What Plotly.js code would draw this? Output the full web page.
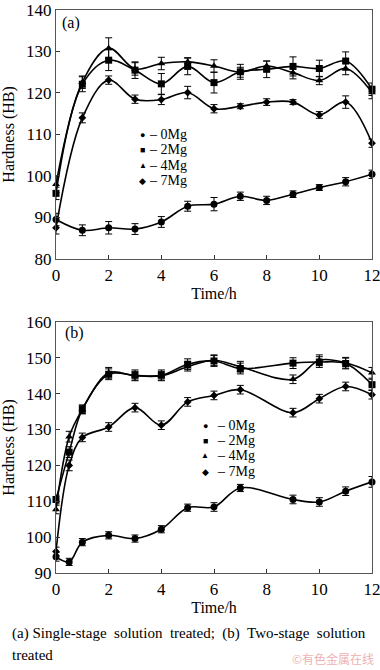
<!DOCTYPE html>
<html><head><meta charset="utf-8">
<script src="https://cdn.plot.ly/plotly-3.0.1.min.js"></script>
<style>html,body{margin:0;padding:0;background:#fff}#c{width:380px;height:670px}</style>
</head><body><div id="c"></div>
<script>
// ---- data: (a) single-stage solution treated ----
const timeA = [0,1,2,3,4,5,6,7,8,9,10,11,12];
const a0Mg = [89.5,86.9,87.5,87.2,88.9,92.7,93.2,95.1,94.1,95.6,97.2,98.6,100.4];
const a0Err = [1.5,1.3,1.5,1.3,1.3,1.2,1.6,1.0,1.0,0.8,0.7,1.0,1.0];
const a2Mg = [95.8,122.1,127.9,125.5,122.2,126.4,122.5,125.1,125.7,126.4,125.9,127.7,120.9];
const a2Err = [1.5,1.8,2.5,2.0,2.5,2.0,2.5,1.8,2.0,2.3,2.0,2.2,1.5];
const a4Mg = [98.0,122.6,130.8,125.8,127.1,127.5,126.5,125.0,126.5,124.9,123.0,125.9,120.1];
const a4Err = [2.0,1.5,2.5,1.5,1.5,1.0,1.5,1.2,1.2,1.5,1.0,1.5,1.5];
const a7Mg = [87.5,114.0,123.1,118.5,118.4,120.1,116.2,116.8,117.8,117.8,114.7,117.8,107.9];
const a7Err = [1.5,1.2,1.0,1.0,1.2,1.5,1.0,0.6,0.8,0.6,0.8,1.5,1.0];
// ---- data: (b) two-stage solution treated ----
const timeB = [0,0.5,1,2,3,4,5,6,7,9,10,11,12];
const b0Mg = [94.5,93.1,98.6,100.5,99.6,102.2,108.2,108.4,113.7,110.5,109.8,112.8,115.4];
const b0Err = [1.2,1.0,1.0,1.0,1.0,1.0,1.0,1.2,1.0,1.2,1.2,1.2,1.5];
const b2Mg = [110.5,123.7,135.6,145.4,145.1,145.1,148.2,149.1,147.0,148.5,148.8,148.4,142.5];
const b2Err = [1.2,1.5,1.2,1.5,1.5,1.5,1.5,1.5,1.5,1.5,1.5,1.5,1.5];
const b4Mg = [107.7,128.0,135.6,145.8,145.0,145.0,147.5,149.3,147.5,144.0,149.3,148.6,145.8];
const b4Err = [1.2,1.5,1.2,1.5,1.2,1.2,1.2,1.5,1.5,1.2,1.5,1.5,1.5];
const b7Mg = [96.0,120.0,127.8,130.7,136.1,131.2,137.7,139.5,141.1,134.7,138.6,142.0,139.7];
const b7Err = [1.2,1.5,1.2,1.2,1.2,1.2,1.2,1.2,1.2,1.2,1.2,1.2,1.2];
const seriesNames = ['0Mg','2Mg','4Mg','7Mg'];
const symbols = ['circle','square','triangle-up','diamond'];
const legendGlyphs = ['\u25CF','\u25A0','\u25B2','\u25C6'];
const yTicksA = [80,90,100,110,120,130,140];
const yTicksB = [90,100,110,120,130,140,150,160];
const xTicks = [0,2,4,6,8,10,12];

const FONT = '"Liberation Serif","Times New Roman",serif';
const W = 380, H = 670, MT = 9.5, MB = 97.3, ML = 56, MR = 8;
const PH = H - MT - MB, PW = W - ML - MR;
const py = p => (H - MB - p) / PH;
const px = p => (p - ML) / PW;

function tr(x, y, e, i, xa, ya) {
  return {
    x: x, y: y, xaxis: xa, yaxis: ya, type: 'scatter', mode: 'lines+markers',
    name: seriesNames[i], showlegend: false, cliponaxis: false,
    line: {color: '#000', width: 1.6, shape: 'spline', smoothing: 1},
    marker: {symbol: symbols[i], size: i === 3 ? 6 : 7, color: '#000'},
    error_y: {type: 'data', array: e, visible: true, color: '#000', thickness: 1, width: 3.5}
  };
}
const data = [
  tr(timeA, a0Mg, a0Err, 0, 'x', 'y'),
  tr(timeA, a2Mg, a2Err, 1, 'x', 'y'),
  tr(timeA, a4Mg, a4Err, 2, 'x', 'y'),
  tr(timeA, a7Mg, a7Err, 3, 'x', 'y'),
  tr(timeB, b0Mg, b0Err, 0, 'x2', 'y2'),
  tr(timeB, b2Mg, b2Err, 1, 'x2', 'y2'),
  tr(timeB, b4Mg, b4Err, 2, 'x2', 'y2'),
  tr(timeB, b7Mg, b7Err, 3, 'x2', 'y2')
];

const axBase = {
  showgrid: false, zeroline: false, showline: true, linecolor: '#555', linewidth: 1.2,
  mirror: true, ticks: 'inside', ticklen: 4, tickcolor: '#333', tickwidth: 1,
  ticklabeloverflow: 'allow',
  tickfont: {family: FONT, size: 17, color: '#000'}
};
const topDom = [py(258.5), 1];
const botDom = [0, py(321.5)];

const ann = [];
function txt(x, y, text, size, anchor, extra) {
  ann.push(Object.assign({xref:'paper', yref:'paper', x:px(x), y:py(y), xanchor:anchor||'left',
    yanchor:'middle', text:text, showarrow:false, font:{family:FONT, size:size, color:'#000'}}, extra||{}));
}
txt(60, 23, '(a)', 16);
txt(63, 333, '(b)', 16);
const legA = [134, 149.3, 165, 180.5];
const legB = [425, 440.3, 455.6, 471];
for (let i = 0; i < 4; i++) {
  const gs = i === 2 ? 8 : 9;
  txt(142.7, legA[i], legendGlyphs[i], gs, 'center', {height: 11});
  txt(147, legA[i], '\u2013 ' + seriesNames[i], 14, 'left', {height: 15});
  txt(205, legB[i], legendGlyphs[i], gs, 'center', {height: 11});
  txt(215, legB[i], '\u2013 ' + seriesNames[i], 14, 'left', {height: 15});
}
txt(10, 633, '(a) Single-stage  solution  treated;  (b)  Two-stage  solution', 15);
txt(10, 655, 'treated', 15);
ann.push({xref:'paper', yref:'paper', x:px(376), y:py(658), xanchor:'right', yanchor:'middle',
  text:'\u00A9有色金属在线', showarrow:false,
  font:{family:'"Noto Sans CJK SC", sans-serif', size:12, color:'rgba(232,150,150,0.75)'}});

const titleFont = {family:FONT, size:16, color:'#000'};
const layout = {
  width: W, height: H, paper_bgcolor: '#fff', plot_bgcolor: '#fff',
  margin: {l: ML, r: MR, t: MT, b: MB}, showlegend: false,
  font: {family: FONT, color: '#000'},
  xaxis: Object.assign({}, axBase, {domain:[0,1], anchor:'y', range:[0,12], tickvals:xTicks,
    title:{text:'Time/h', font:titleFont, standoff:4}}),
  yaxis: Object.assign({}, axBase, {domain:topDom, anchor:'x', range:[80,140], tickvals:yTicksA,
    title:{text:'Hardness (HB)', font:titleFont, standoff:8}}),
  xaxis2: Object.assign({}, axBase, {domain:[0,1], anchor:'y2', range:[0,12], tickvals:xTicks,
    title:{text:'Time/h', font:titleFont, standoff:4}}),
  yaxis2: Object.assign({}, axBase, {domain:botDom, anchor:'x2', range:[90,160], tickvals:yTicksB,
    title:{text:'Hardness (HB)', font:titleFont, standoff:8}}),
  annotations: ann
};
Plotly.newPlot('c', data, layout, {displayModeBar:false, staticPlot:true});
</script></body></html>
